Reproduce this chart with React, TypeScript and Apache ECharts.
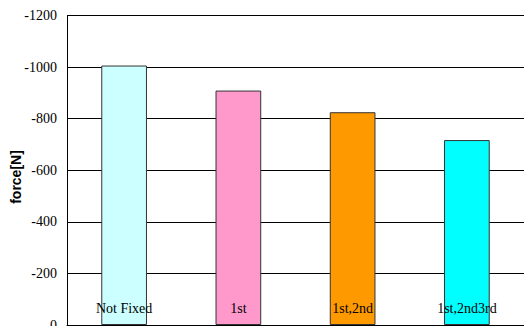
import React, { useEffect, useRef } from "react";
import * as echarts from "echarts";

// Categories and measured force per fixing condition
const categories = ["Not Fixed", "1st", "1st,2nd", "1st,2nd3rd"];
const forceValues = [-1006, -909, -825, -717];
const barColors = ["#CCFFFF", "#FF99CC", "#FF9900", "#00FFFF"];
const yAxisTitle = "force[N]";

const serif = "'Liberation Serif', 'Times New Roman', serif";

export default function App() {
  const ref = useRef<HTMLDivElement>(null);

  useEffect(() => {
    if (!ref.current) return;
    const chart = echarts.init(ref.current, undefined, { renderer: "svg" });
    chart.setOption({
      animation: false,
      backgroundColor: "#ffffff",
      grid: {
        left: 67,
        top: 15.5,
        right: 0,
        bottom: 1,
        containLabel: false,
        outerBoundsMode: "none",
      },
      graphic: [
        {
          type: "text",
          x: 16,
          y: 177,
          rotation: Math.PI / 2,
          style: {
            text: yAxisTitle,
            fill: "#000",
            font: "bold 14px 'Liberation Sans', Arial, sans-serif",
            align: "center",
            verticalAlign: "middle",
          },
        },
      ],
      xAxis: {
        type: "category",
        data: categories,
        z: 5,
        axisLine: { lineStyle: { color: "#000", width: 1 } },
        axisTick: { show: true, length: 5, lineStyle: { color: "#000" } },
        axisLabel: {
          inside: true,
          margin: 10,
          color: "#000",
          fontFamily: serif,
          fontSize: 14,
        },
        splitLine: { show: false },
      },
      yAxis: {
        type: "value",
        inverse: true,
        min: -1200,
        max: 0,
        interval: 200,
        axisLine: { show: true, lineStyle: { color: "#000", width: 1 } },
        axisTick: { show: false },
        axisLabel: {
          color: "#000",
          fontFamily: serif,
          fontSize: 14,
          margin: 10,
          formatter: (v: number) => String(v),
        },
        splitLine: { show: true, lineStyle: { color: "#000", width: 1 } },
      },
      series: [
        {
          type: "bar",
          barWidth: "40%",
          data: forceValues.map((v, i) => ({
            value: v,
            itemStyle: { color: barColors[i], borderColor: "#333", borderWidth: 1 },
          })),
        },
      ],
    });
    return () => chart.dispose();
  }, []);

  return (
    <div
      ref={ref}
      style={{ position: "fixed", left: 0, top: 0, width: 524, height: 326 }}
    />
  );
}
